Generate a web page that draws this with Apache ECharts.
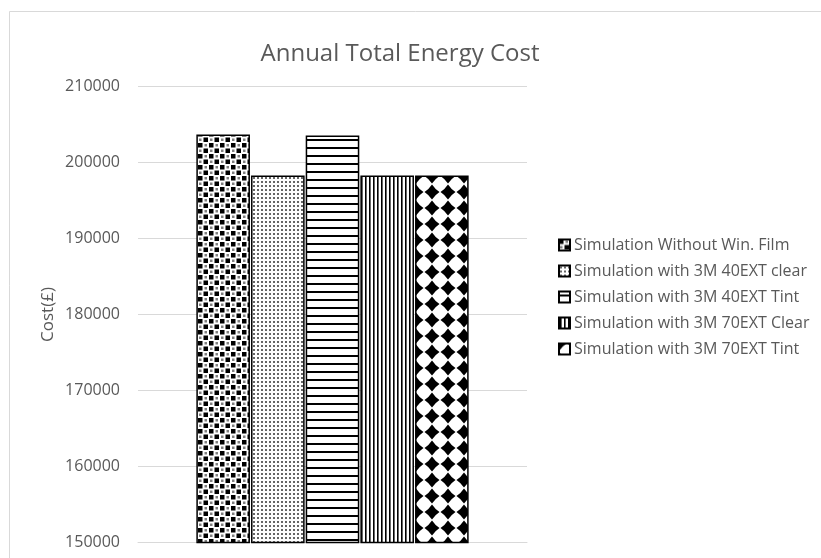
<!DOCTYPE html>
<html>
<head>
<meta charset="utf-8">
<script src="https://cdn.jsdelivr.net/npm/echarts@6/dist/echarts.min.js"></script>
<style>
html,body{margin:0;padding:0;background:#fff;}
#chart{width:821px;height:558px;}
</style>
</head>
<body>
<div id="chart"></div>
<script>
const categories = [''];
const seriesNames = [
  'Simulation Without Win. Film',
  'Simulation with 3M 40EXT clear',
  'Simulation with 3M 40EXT Tint',
  'Simulation with 3M 70EXT Clear',
  'Simulation with 3M 70EXT Tint'
];
const seriesValues = [203700, 198300, 203550, 198300, 198300];
const yTicks = { min: 150000, max: 210000, interval: 10000 };

function makeTile(w, h, draw) {
  const c = document.createElement('canvas');
  c.width = w; c.height = h;
  const ctx = c.getContext('2d');
  ctx.fillStyle = '#fff';
  ctx.fillRect(0, 0, w, h);
  draw(ctx, w, h);
  return c;
}
function diamond(ctx, cx, cy, r) {
  const k = 0.4;
  ctx.beginPath();
  ctx.moveTo(cx, cy - r);
  ctx.quadraticCurveTo(cx + r * k, cy - r * k, cx + r, cy);
  ctx.quadraticCurveTo(cx + r * k, cy + r * k, cx, cy + r);
  ctx.quadraticCurveTo(cx - r * k, cy + r * k, cx - r, cy);
  ctx.quadraticCurveTo(cx - r * k, cy - r * k, cx, cy - r);
  ctx.fill();
}
const patterns = [
  // confetti squares
  makeTile(11, 11, (ctx) => {
    ctx.fillStyle = '#000';
    ctx.fillRect(0, 0, 4.5, 4.5);
    ctx.fillRect(5.5, 5.5, 4.5, 4.5);
    ctx.fillStyle = '#808080';
    ctx.fillRect(6.5, 1, 2.5, 2.5);
    ctx.fillRect(1, 6.5, 2.5, 2.5);
  }),
  // fine dots
  makeTile(4, 4, (ctx) => {
    ctx.fillStyle = '#666';
    ctx.fillRect(1, 1, 2, 2);
  }),
  // horizontal lines
  makeTile(8, 8, (ctx) => {
    ctx.fillStyle = '#000';
    ctx.fillRect(0, 3, 8, 2);
  }),
  // vertical lines
  makeTile(4, 4, (ctx) => {
    ctx.fillStyle = '#000';
    ctx.fillRect(1, 0, 1.6, 4);
  }),
  // solid diamonds
  makeTile(16, 16, (ctx) => {
    ctx.fillStyle = '#000';
    [[0, 0], [16, 0], [0, 16], [16, 16]].forEach(p => diamond(ctx, p[0], p[1], 7.5));
  })
];

const series = seriesNames.map((name, i) => ({
  name: name,
  type: 'bar',
  data: [seriesValues[i]],
  barGap: '2%',
  barCategoryGap: '30%',
  itemStyle: {
    color: { image: patterns[i], repeat: 'repeat' },
    borderColor: '#000',
    borderWidth: 1.5
  }
}));

const chart = echarts.init(document.getElementById('chart'));
chart.setOption({
  animation: false,
  backgroundColor: '#fff',
  textStyle: { fontFamily: 'Open Sans' },
  graphic: [{
    type: 'rect',
    shape: { x: 9.5, y: 11.5, width: 900, height: 700 },
    style: { fill: 'none', stroke: '#d9d9d9', lineWidth: 1 },
    silent: true
  }],
  title: {
    text: 'Annual Total Energy Cost',
    left: 395, top: 37, textAlign: 'center',
    textStyle: { fontFamily: 'Open Sans', fontSize: 24, fontWeight: 'normal', color: '#595959' }
  },
  legend: {
    orient: 'vertical',
    left: 558, top: 237,
    padding: 0,
    itemWidth: 11, itemHeight: 11, itemGap: 10,
    icon: 'rect',
    textStyle: { fontFamily: 'Open Sans', fontSize: 16, lineHeight: 16, color: '#595959', padding: [0, 0, 0, -1] },
    data: seriesNames
  },
  grid: { left: 138, right: 294, top: 86.5, bottom: 15.5, containLabel: false },
  xAxis: {
    type: 'category',
    data: categories,
    axisLine: { show: true, lineStyle: { color: '#d9d9d9' } },
    axisTick: { show: false },
    axisLabel: { show: false }
  },
  yAxis: {
    type: 'value',
    min: yTicks.min, max: yTicks.max, interval: yTicks.interval,
    name: 'Cost(£)',
    nameLocation: 'middle',
    nameRotate: 90,
    nameGap: 81,
    nameTextStyle: { fontFamily: 'Open Sans', fontSize: 17, color: '#595959' },
    axisLine: { show: false },
    axisTick: { show: false },
    axisLabel: { fontFamily: 'Open Sans', fontSize: 16, color: '#595959', margin: 18, formatter: v => String(v) },
    splitLine: { lineStyle: { color: '#d9d9d9', width: 1 } }
  },
  series: series
});
</script>
</body>
</html>
